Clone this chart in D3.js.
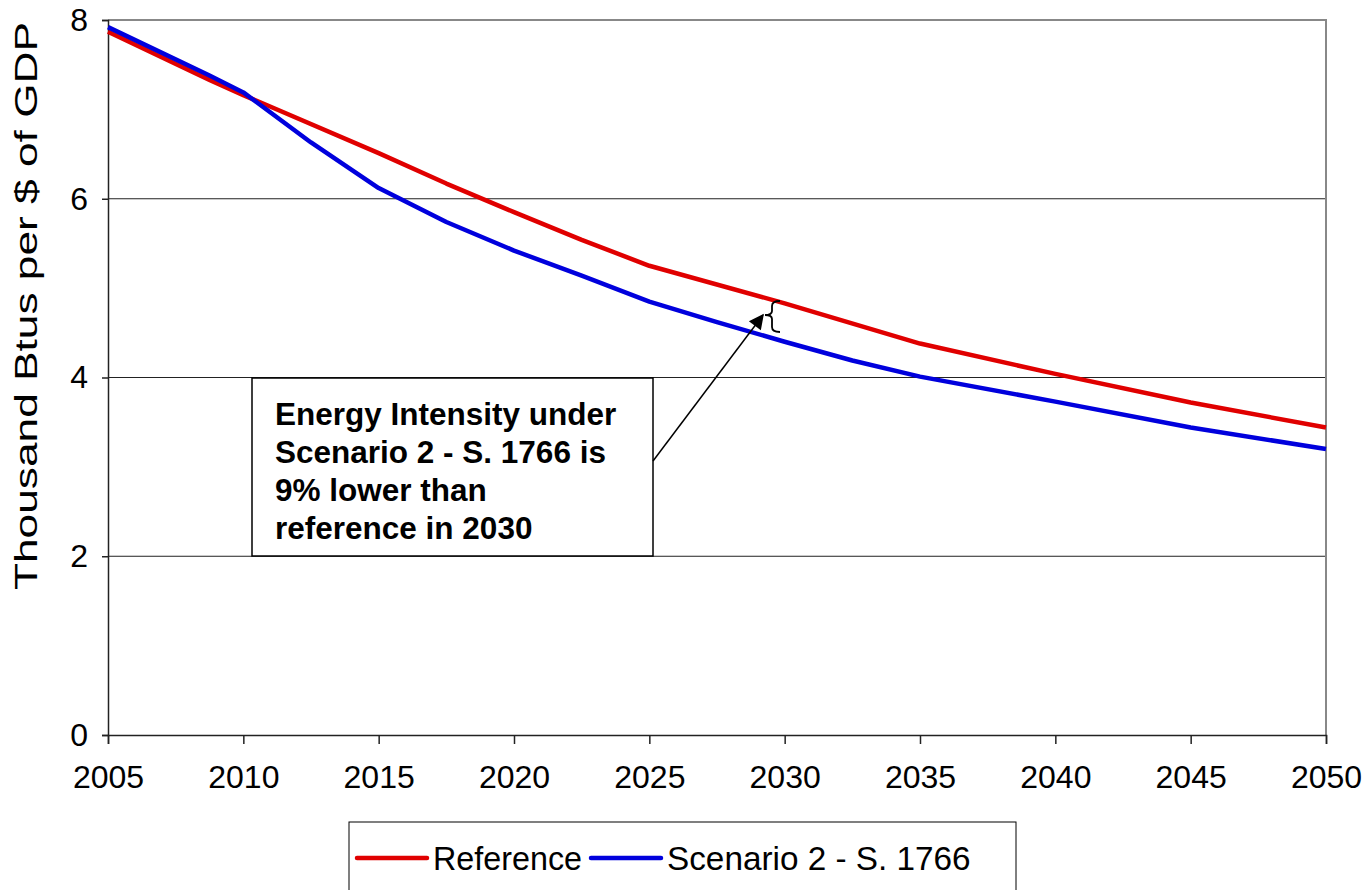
<!DOCTYPE html>
<html><head><meta charset="utf-8">
<script src="https://cdn.jsdelivr.net/npm/d3@7/dist/d3.min.js"></script>
<style>body{margin:0;background:#fff;} svg{display:block;font-family:Arial,"Liberation Sans",sans-serif;}</style>
</head><body>
<svg id="c" width="1368" height="890"></svg>
<script>
const refYears = [2005, 2008.75, 2010, 2015, 2017.5, 2020, 2022.5, 2025, 2030, 2035, 2040, 2045, 2050];
const refValues = [7.87, 7.33, 7.16, 6.51, 6.17, 5.85, 5.54, 5.25, 4.83, 4.38, 4.04, 3.72, 3.44];
const scnYears = [2005, 2008.75, 2010, 2012.5, 2015, 2016.25, 2017.5, 2020, 2022.5, 2025, 2027.5, 2030, 2032.5, 2035, 2040, 2045, 2050];
const scnValues = [7.92, 7.38, 7.19, 6.63, 6.12, 5.93, 5.74, 5.42, 5.14, 4.85, 4.62, 4.40, 4.19, 4.01, 3.73, 3.44, 3.20];
const xTicks = [2005, 2010, 2015, 2020, 2025, 2030, 2035, 2040, 2045, 2050];
const yTicks = [0, 2, 4, 6, 8];
const seriesNames = ["Reference", "Scenario 2 - S. 1766"];
const seriesColors = ["#e00000", "#0000dd"];
const yTitle = "Thousand Btus per $ of GDP";
const noteLines = ["Energy Intensity under", "Scenario 2 - S. 1766 is", "9% lower than", "reference in 2030"];

const svg = d3.select("#c");
const L = 108, R = 1326, T = 20, B = 735;
const x = d3.scaleLinear().domain([2005, 2050]).range([L, R]);
const y = d3.scaleLinear().domain([0, 8]).range([B, T]);

// gridlines
svg.append("g").selectAll("line").data(yTicks.filter(v => v > 0 && v < 8)).join("line")
  .attr("x1", L).attr("x2", R).attr("y1", d => y(d)).attr("y2", d => y(d))
  .attr("stroke", "#222").attr("stroke-width", 1);
// top & right border
svg.append("line").attr("x1", L).attr("x2", R + 1).attr("y1", y(8)).attr("y2", y(8)).attr("stroke", "#888").attr("stroke-width", 2);
svg.append("line").attr("x1", R).attr("x2", R).attr("y1", y(8)).attr("y2", B).attr("stroke", "#888").attr("stroke-width", 2);

// axes
const yAxis = svg.append("g").attr("transform", `translate(${L},0)`)
  .call(d3.axisLeft(y).tickValues(yTicks).tickSize(6).tickPadding(14).tickFormat(d3.format("d")));
const xAxis = svg.append("g").attr("transform", `translate(0,${B})`)
  .call(d3.axisBottom(x).tickValues(xTicks).tickSize(9).tickPadding(18).tickFormat(d3.format("d")));
[yAxis, xAxis].forEach(a => {
  a.attr("font-size", 32).attr("font-family", "Arial, 'Liberation Sans', sans-serif");
  a.select(".domain").attr("stroke", "#222").attr("stroke-width", 1.5);
  a.selectAll(".tick line").attr("stroke", "#222").attr("stroke-width", 1.5);
  a.selectAll("text").attr("fill", "#000");
});
xAxis.selectAll("text").attr("dy", "0.82em");

// y title
svg.append("text").attr("transform", `translate(37,306) rotate(-90)`)
  .attr("text-anchor", "middle").attr("font-size", 32)
  .attr("textLength", 568).attr("lengthAdjust", "spacingAndGlyphs").text(yTitle);

// lines
const line = d3.line().x(d => x(d[0])).y(d => y(d[1]));
const refData = refYears.map((yr, i) => [yr, refValues[i]]);
const scnData = scnYears.map((yr, i) => [yr, scnValues[i]]);
svg.append("path").datum(refData).attr("d", line).attr("fill", "none").attr("stroke", seriesColors[0]).attr("stroke-width", 4.5).attr("stroke-linejoin", "round");
svg.append("path").datum(scnData).attr("d", line).attr("fill", "none").attr("stroke", seriesColors[1]).attr("stroke-width", 4.5).attr("stroke-linejoin", "round");

// annotation box
svg.append("rect").attr("x", 252).attr("y", 378).attr("width", 401).attr("height", 178)
  .attr("fill", "#fff").attr("stroke", "#000").attr("stroke-width", 1.5);
const nt = svg.append("text").attr("font-size", 31.5).attr("font-weight", "bold");
noteLines.forEach((s, i) => nt.append("tspan").attr("x", 275).attr("y", 425 + i * 38).text(s));

// arrow
svg.append("defs").append("marker").attr("id", "ah").attr("viewBox", "0 0 10 10").attr("refX", 9).attr("refY", 5)
  .attr("markerWidth", 20).attr("markerHeight", 15).attr("markerUnits", "userSpaceOnUse").attr("orient", "auto")
  .append("path").attr("d", "M0,0 L10,5 L0,10 z").attr("fill", "#000");
svg.append("line").attr("x1", 653).attr("y1", 461).attr("x2", 763).attr("y2", 315)
  .attr("stroke", "#000").attr("stroke-width", 1.5).attr("marker-end", "url(#ah)");
// brace
svg.append("path").attr("d", "M780,301 Q772,301 772,306 L772,311 Q772,315 765,315 Q772,315 772,319 L772,327 Q772,332 780,332")
  .attr("fill", "none").attr("stroke", "#000").attr("stroke-width", 1.8);

// legend
const lg = svg.append("g");
lg.append("rect").attr("x", 349).attr("y", 822).attr("width", 667).attr("height", 80).attr("fill", "#fff").attr("stroke", "#000").attr("stroke-width", 1);
const legX = [357, 591];
seriesNames.forEach((n, i) => {
  lg.append("line").attr("x1", legX[i]).attr("x2", legX[i] + 70).attr("y1", 858).attr("y2", 858)
    .attr("stroke", seriesColors[i]).attr("stroke-width", 4.5).attr("stroke-linecap", "round");
  lg.append("text").attr("x", legX[i] + 76).attr("y", 870).attr("font-size", i === 0 ? 32.3 : 33.3).text(n);
});
</script>
</body></html>
